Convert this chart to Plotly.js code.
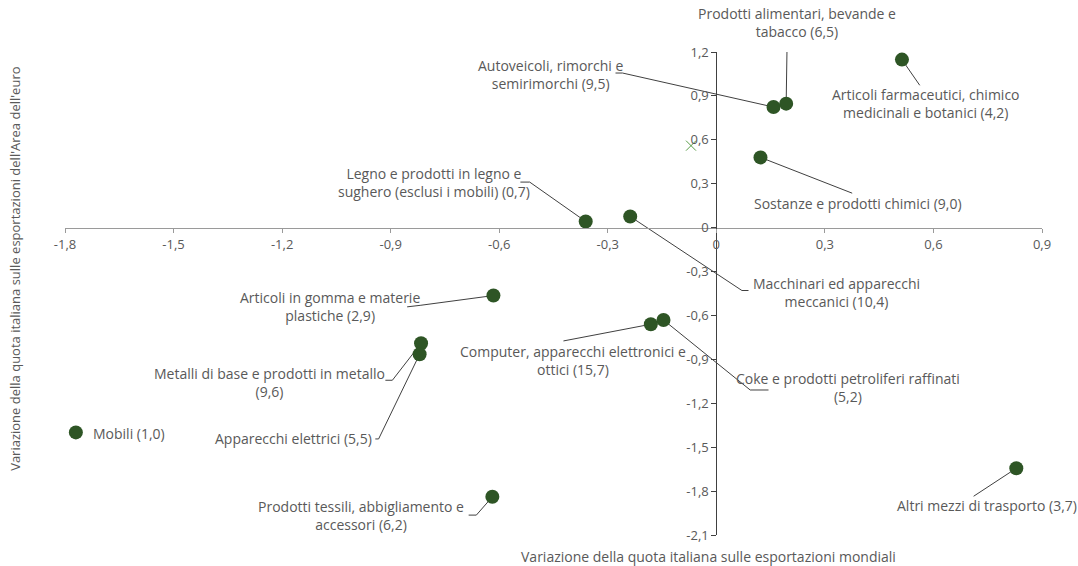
<!DOCTYPE html>
<html>
<head>
<meta charset="utf-8">
<script src="https://cdn.plot.ly/plotly-3.0.1.min.js"></script>
<style>html,body{margin:0;padding:0;background:#fff}#chart{width:1078px;height:566px}</style>
</head>
<body>
<div id="chart"></div>
<script>
// ---- data ----
const categories = [
  'Prodotti alimentari, bevande e<br>tabacco (6,5)',
  'Autoveicoli, rimorchi e<br>semirimorchi (9,5)',
  'Articoli farmaceutici, chimico<br>medicinali e botanici (4,2)',
  'Sostanze e prodotti chimici (9,0)',
  'Legno e prodotti in legno e<br>sughero (esclusi i mobili) (0,7)',
  'Macchinari ed apparecchi<br>meccanici (10,4)',
  'Articoli in gomma e materie<br>plastiche (2,9)',
  'Metalli di base e prodotti in metallo<br>(9,6)',
  'Apparecchi elettrici (5,5)',
  'Computer, apparecchi elettronici e<br>ottici (15,7)',
  'Coke e prodotti petroliferi raffinati<br>(5,2)',
  'Mobili (1,0)',
  'Prodotti tessili, abbigliamento e<br>accessori (6,2)',
  'Altri mezzi di trasporto (3,7)'
];
const xValues = [0.193, 0.158, 0.513, 0.122, -0.361, -0.238, -0.616, -0.816, -0.820, -0.181, -0.146, -1.770, -0.619, 0.829];
const yValues = [0.847, 0.824, 1.148, 0.480, 0.042, 0.076, -0.464, -0.790, -0.865, -0.660, -0.631, -1.399, -1.839, -1.644];
const referenceX = [-0.07];
const referenceY = [0.56];

const xTickValues = [-1.8, -1.5, -1.2, -0.9, -0.6, -0.3, 0, 0.3, 0.6, 0.9];
const xTickLabels = ['-1,8', '-1,5', '-1,2', '-0,9', '-0,6', '-0,3', '0', '0,3', '0,6', '0,9'];
const yTickValues = [-2.1, -1.8, -1.5, -1.2, -0.9, -0.6, -0.3, 0, 0.3, 0.6, 0.9, 1.2];
const yTickLabels = ['-2,1', '-1,8', '-1,5', '-1,2', '-0,9', '-0,6', '-0,3', '0', '0,3', '0,6', '0,9', '1,2'];

const xTitle = 'Variazione della quota italiana sulle esportazioni mondiali';
const yTitle = "Variazione della quota italiana sulle esportazioni dell'Area dell'euro";

// ---- label placement (pixel offsets from point; +dy = down) ----
const labelPlacement = [
  {dx: 11, dy: -81.5, path: [[1, -65]]},
  {dx: -223, dy: -33, path: [[-151, -34], [-158, -34]]},
  {dx: 24.5, dy: 44, path: [[17.8, 25.7]]},
  {dx: 98, dy: 46.5, path: [[91.7, 35.8]]},
  {dx: -152, dy: -38.7, path: [[-56, -39.4], [-65.3, -39.4]]},
  {dx: 206.5, dy: 75.8, path: [[111.7, 74], [118.3, 74]]},
  {dx: -163.8, dy: 10.8, path: [[-73.3, 9.8], [-86.3, 11.3]]},
  {dx: -152, dy: 39.7, path: [[-28.7, 37], [-35.7, 37]]},
  {dx: -126, dy: 84, path: [[-41, 84.7], [-44.3, 84.7]]},
  {dx: -78.2, dy: 36.2, path: [[-87.4, 16.7]]},
  {dx: 184.2, dy: 68, path: [[86.7, 70], [105, 70]]},
  {dx: 15, dy: 1, anchor: 'left', path: []},
  {dx: -131, dy: 19, path: [[-16, 18.3], [-23.7, 18.3]]},
  {dx: -29.5, dy: 37.5, path: [[-42.7, 28]]}
];

const textColor = '#595959';
const fontFamily = '"Open Sans", "Noto Sans", sans-serif';

const yMin = -2.1, yMax = 1.2, xMin = -1.8, xMax = 0.9;

const shapes = [];
const annotations = [];
categories.forEach((label, i) => {
  const p = labelPlacement[i];
  if (p.path.length) {
    const d = 'M 0 0 ' + p.path.map(pt => 'L ' + pt[0] + ' ' + (-pt[1])).join(' ');
    shapes.push({
      type: 'path', xref: 'x', yref: 'y',
      xsizemode: 'pixel', ysizemode: 'pixel',
      xanchor: xValues[i], yanchor: yValues[i],
      path: d, layer: 'below',
      line: {color: '#404040', width: 1}
    });
  }
  annotations.push({
    x: xValues[i], y: yValues[i], xref: 'x', yref: 'y',
    xshift: p.dx, yshift: -p.dy,
    text: label, showarrow: false,
    xanchor: p.anchor || 'center', yanchor: 'middle', align: 'center',
    font: {family: fontFamily, size: 14, color: textColor}
  });
});

annotations.push({
  x: 0, y: 0, xref: 'x', yref: 'paper', yshift: -21, xshift: -8,
  text: xTitle, showarrow: false, xanchor: 'center', yanchor: 'middle',
  font: {family: fontFamily, size: 14, color: textColor}
});
annotations.push({
  x: 0, y: 0.551, xref: 'paper', yref: 'paper', xshift: -50,
  text: yTitle, showarrow: false, textangle: -90, xanchor: 'center', yanchor: 'middle',
  font: {family: fontFamily, size: 13, color: textColor}
});

const traces = [
  {
    type: 'scatter', mode: 'markers', x: xValues, y: yValues,
    marker: {size: 14, color: '#2e5525'}, hoverinfo: 'skip', cliponaxis: false
  },
  {
    type: 'scatter', mode: 'markers', x: referenceX, y: referenceY,
    marker: {size: 10, symbol: 'x-thin', color: '#5a9e48', line: {width: 1, color: '#5a9e48'}},
    hoverinfo: 'skip', cliponaxis: false
  }
];

const layout = {
  width: 1078, height: 566,
  margin: {l: 65, r: 36, t: 52, b: 31},
  paper_bgcolor: '#ffffff', plot_bgcolor: '#ffffff',
  showlegend: false,
  font: {family: fontFamily, size: 13, color: textColor},
  xaxis: {
    range: [xMin, xMax], anchor: 'free',
    position: (0 - yMin) / (yMax - yMin),
    tickmode: 'array', tickvals: xTickValues, ticktext: xTickLabels,
    showline: true, linecolor: '#9a9a9a', linewidth: 1.5,
    ticks: 'outside', ticklen: 4, tickcolor: '#9a9a9a', tickwidth: 1,
    showgrid: false, zeroline: false,
    tickfont: {family: fontFamily, size: 13, color: textColor}
  },
  yaxis: {
    range: [yMin, yMax], anchor: 'free',
    position: (0 - xMin) / (xMax - xMin),
    tickmode: 'array', tickvals: yTickValues, ticktext: yTickLabels,
    showline: true, linecolor: '#404040', linewidth: 1,
    ticks: 'outside', ticklen: 5, tickcolor: '#404040', tickwidth: 1,
    showgrid: false, zeroline: false,
    tickfont: {family: fontFamily, size: 13, color: textColor}
  },
  shapes: shapes,
  annotations: annotations
};

Plotly.newPlot('chart', traces, layout, {staticPlot: true, displayModeBar: false});
</script>
</body>
</html>
